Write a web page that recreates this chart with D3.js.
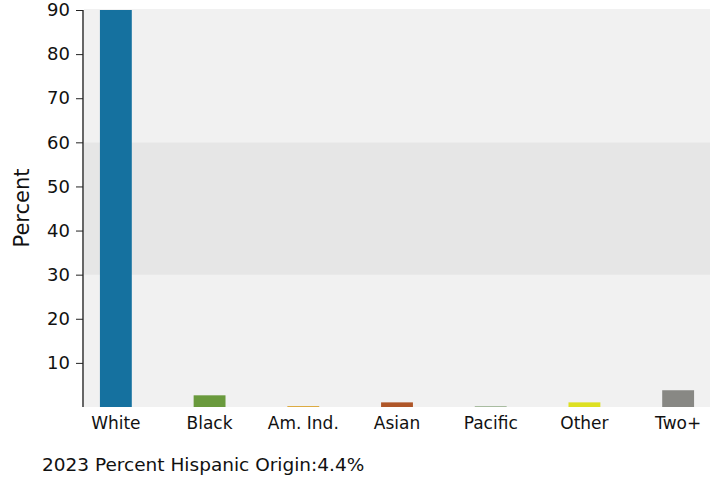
<!DOCTYPE html>
<html>
<head>
<meta charset="utf-8">
<script src="https://cdn.jsdelivr.net/npm/d3@7"></script>
<style>
  body { margin: 0; background: #fff; }
  text { font-family: "DejaVu Sans", Verdana, sans-serif; fill: #111; }
</style>
</head>
<body>
<svg id="chart" width="718" height="479"></svg>
<script>
// values
var races = ['White', 'Black', 'Am. Ind.', 'Asian', 'Pacific', 'Other', 'Two+'];
var pct = [91.1, 2.65, 0.2, 1.05, 0.1, 1.05, 3.8];
var colors = ['#15719f', '#6a9a3d', '#d9a12b', '#af5628', '#4b7a3a', '#dde022', '#888884'];
var yTicks = [10, 20, 30, 40, 50, 60, 70, 80, 90];
var bands = [[0, 30], [30, 60], [60, 90]];
var hispanic = 4.4;

var svg = d3.select('#chart');
var plotL = 84, plotR = 710, plotT = 10, plotB = 407;

var x = d3.scaleBand().domain(races).range([69, 725])
    .paddingInner(0.66).paddingOuter(0.33);
var y = d3.scaleLinear().domain([0, 90]).range([plotB, plotT]);

svg.append('defs').append('clipPath').attr('id', 'plot-clip')
    .append('rect').attr('x', plotL).attr('y', plotT)
    .attr('width', plotR - plotL).attr('height', plotB - plotT);

// background bands
svg.append('rect').attr('x', plotL).attr('y', plotT - 1)
    .attr('width', plotR - plotL).attr('height', plotB - plotT + 1)
    .style('fill', '#f1f1f1');
svg.selectAll('.band').data(bands).enter().append('rect')
    .attr('class', 'band')
    .attr('x', plotL).attr('width', plotR - plotL)
    .attr('y', function(d) { return y(d[1]); })
    .attr('height', function(d) { return y(d[0]) - y(d[1]); })
    .style('fill', function(d, i) { return i == 1 ? '#e6e6e6' : '#f1f1f1'; });

svg.append('g').attr('clip-path', 'url(#plot-clip)')
    .selectAll('.bar').data(pct).enter().append('rect')
    .attr('class', 'bar')
    .attr('x', function(d, i) { return x(races[i]); })
    .attr('width', x.bandwidth())
    .attr('y', function(d) { return y(d); })
    .attr('height', function(d) { return Math.max(plotB - y(d), 1); })
    .style('fill', function(d, i) { return colors[i]; });

// y axis
var yAxis = svg.append('g').attr('transform', 'translate(' + (plotL - 1) + ',0)')
    .call(d3.axisLeft(y).tickValues(yTicks).tickSize(7).tickPadding(6));
yAxis.select('.domain').attr('d', 'M0,' + plotT + 'V' + plotB)
    .style('stroke', '#666').style('stroke-width', 2);
yAxis.selectAll('.tick line').style('stroke', '#222');
yAxis.selectAll('.tick text').style('font-size', '18px')
    .style('font-family', '"DejaVu Sans", sans-serif').style('fill', '#111');

// x labels
var xAxis = svg.append('g').attr('transform', 'translate(0,' + plotB + ')')
    .call(d3.axisBottom(x).tickSize(0).tickPadding(10));
xAxis.select('.domain').remove();
xAxis.selectAll('.tick text').style('font-size', '17px')
    .style('font-family', '"DejaVu Sans", sans-serif').style('fill', '#111');

svg.append('text')
    .attr('transform', 'translate(29,208) rotate(-90)')
    .attr('text-anchor', 'middle')
    .style('font-size', '21px')
    .text('Percent');

svg.append('text').attr('x', 42).attr('y', 471)
    .style('font-size', '18.5px')
    .text('2023 Percent Hispanic Origin:' + hispanic + '%');
</script>
</body>
</html>
